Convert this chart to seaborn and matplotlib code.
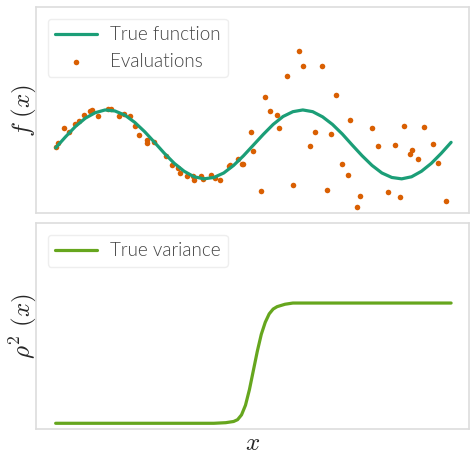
import numpy as np
import pandas as pd
import seaborn as sns
from matplotlib import pyplot as plt

# true function
x_true = [0.0, 0.25, 0.5, 0.75, 1.0, 1.25, 1.5, 1.75, 2.0, 2.25, 2.5, 2.75,
          3.0, 3.25, 3.5, 3.75, 4.0, 4.25, 4.5, 4.75, 5.0, 5.25, 5.5, 5.75,
          6.0, 6.25, 6.5, 6.75, 7.0, 7.25, 7.5, 7.75, 8.0, 8.25, 8.5, 8.75,
          9.0, 9.25, 9.5, 9.75, 10.0]
f_true = [-0.10, 0.22, 0.52, 0.76, 0.92, 1.00, 0.97, 0.85, 0.64, 0.37, 0.06,
          -0.26, -0.55, -0.78, -0.94, -1.00, -0.96, -0.83, -0.61, -0.33,
          -0.02, 0.29, 0.58, 0.81, 0.95, 1.00, 0.95, 0.80, 0.58, 0.30, -0.02,
          -0.33, -0.61, -0.83, -0.96, -1.00, -0.94, -0.78, -0.55, -0.26, 0.06]

# noisy evaluations
x_eval = [0.01, 0.05, 0.20, 0.33, 0.48, 0.60, 0.72, 0.87, 0.92, 1.07, 1.32,
          1.41, 1.60, 1.73, 1.87, 2.01, 2.12, 2.31, 2.32, 2.49, 2.79, 2.93,
          3.09, 3.15, 3.32, 3.47, 3.50, 3.67, 3.72, 3.92, 4.04, 4.16, 4.38,
          4.41, 4.60, 4.72, 4.75, 4.94, 4.99, 5.18, 5.30, 5.42, 5.60, 5.66,
          5.85, 6.01, 6.16, 6.25, 6.42, 6.57, 6.73, 6.86, 6.96, 7.08, 7.24,
          7.40, 7.44, 7.61, 7.70, 8.01, 8.15, 8.41, 8.59, 8.72, 8.82, 8.96,
          9.01, 9.17, 9.32, 9.54, 9.68, 9.86]
y_eval = [-0.08, 0.05, 0.49, 0.35, 0.59, 0.67, 0.86, 0.97, 0.99, 0.83, 1.02,
          1.04, 0.81, 0.88, 0.82, 0.54, 0.28, 0.13, 0.05, 0.07, -0.35, -0.59,
          -0.69, -0.83, -0.93, -0.91, -1.03, -0.91, -1.01, -0.88, -0.97,
          -1.04, -0.64, -0.61, -0.42, -0.57, -0.57, 0.37, -0.18, -1.36, 1.37,
          0.96, 0.86, 0.47, 1.99, -1.19, 2.70, 2.27, -0.06, 0.37, 2.27, -1.32,
          0.31, 1.43, -0.57, -0.88, 0.70, -1.81, -1.51, 0.48, -0.04, -1.39,
          -0.01, -1.53, 0.54, -0.27, -0.15, -0.42, 0.50, 0.01, -0.54, -1.64]

# true variance
x_var = [0.0, 1.0, 2.0, 3.0, 4.0, 4.3, 4.5, 4.6, 4.7, 4.8, 4.9, 5.0, 5.1,
         5.2, 5.3, 5.4, 5.5, 5.6, 5.8, 6.0, 7.0, 8.0, 9.0, 10.0]
rho2 = [0.0, 0.0, 0.0, 0.0, 0.0, 0.005, 0.015, 0.03, 0.07, 0.15, 0.28, 0.44,
        0.60, 0.74, 0.84, 0.91, 0.95, 0.97, 0.99, 1.0, 1.0, 1.0, 1.0, 1.0]

sns.set_theme(style="whitegrid")
plt.rcParams["mathtext.fontset"] = "cm"
pal = sns.color_palette("Dark2")
legend_font = {"family": "Lato", "weight": 300, "size": 13.6}

fig = plt.figure(figsize=(4.7, 4.54), dpi=100)
ax1 = fig.add_axes([0.0772, 0.5302, 0.9213, 0.4537])
ax2 = fig.add_axes([0.0772, 0.0544, 0.9213, 0.4537])

sns.lineplot(x=x_true, y=f_true, ax=ax1, color=pal[0], lw=2.3,
             label="True function")
sns.scatterplot(x=x_eval, y=y_eval, ax=ax1, color=pal[1], s=16,
                linewidth=0, label="Evaluations")
ax1.set_xlim(-0.49, 10.46)
ax1.set_ylim(-2.0, 3.98)
ax1.set_ylabel(r"$f\ (x)$", fontsize=18, labelpad=-2)

sns.lineplot(x=x_var, y=rho2, ax=ax2, color=pal[4], lw=2.3,
             label="True variance")
ax2.set_xlim(-0.49, 10.46)
ax2.set_ylim(-0.05, 1.663)
ax2.set_ylabel(r"$\rho^2\ (x)$", fontsize=18, labelpad=-2)
ax2.set_xlabel(r"$x$", fontsize=18, labelpad=1)

for ax in (ax1, ax2):
    ax.grid(False)
    ax.set_xticks([])
    ax.set_yticks([])
    for sp in ax.spines.values():
        sp.set_color("#dddddd")
        sp.set_linewidth(1.2)
    leg = ax.legend(loc="upper left", prop=legend_font, borderaxespad=0.6,
                    handlelength=2.2, handletextpad=0.7)
    leg.get_frame().set_edgecolor("#eaeaea")
    for t in leg.get_texts():
        t.set_color("#444444")

fig.savefig("out.png", dpi=100)
